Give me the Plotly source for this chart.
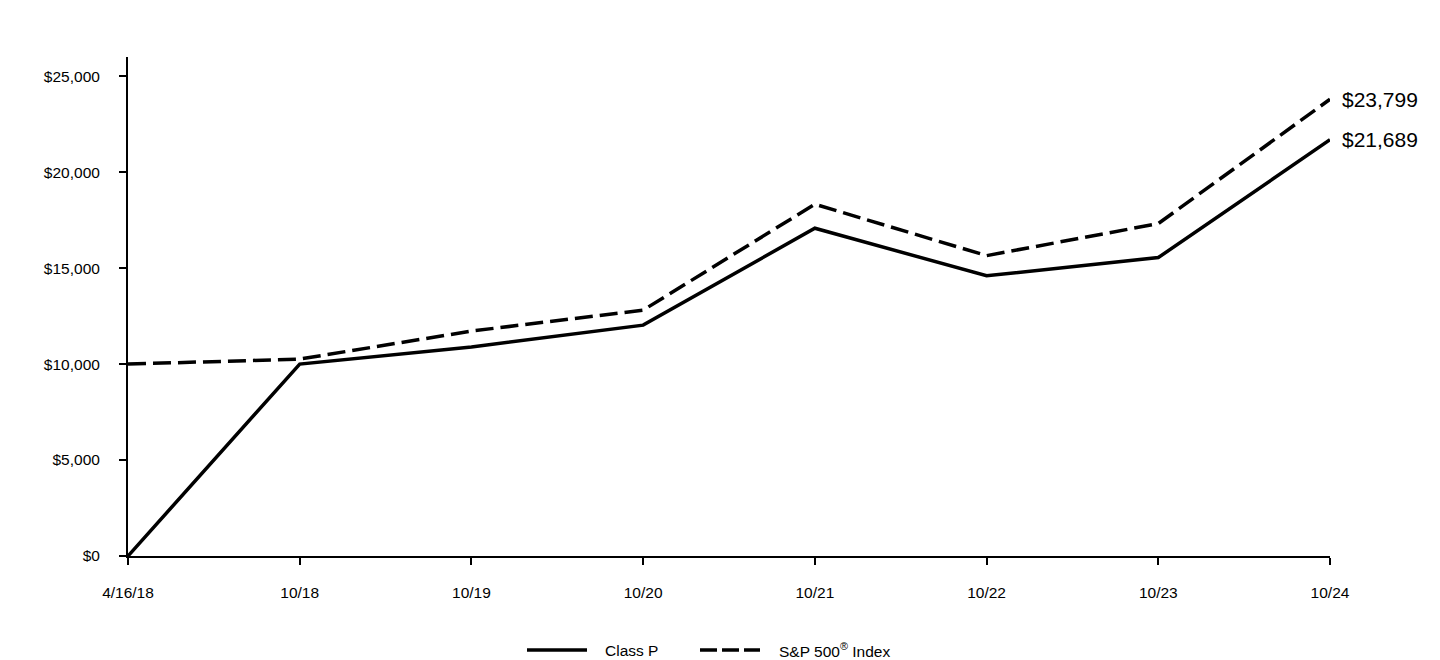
import plotly.graph_objects as go

categories = ["4/16/18", "10/18", "10/19", "10/20", "10/21", "10/22", "10/23", "10/24"]
class_p = [0, 10000, 10890, 12030, 17080, 14600, 15550, 21689]
sp500 = [10000, 10260, 11720, 12810, 18330, 15650, 17320, 23799]
y_ticks = [0, 5000, 10000, 15000, 20000, 25000]
y_tick_labels = ["$0", "$5,000", "$10,000", "$15,000", "$20,000", "$25,000"]

FONT = "Arial, 'Liberation Sans', sans-serif"
xi = list(range(len(categories)))

fig = go.Figure()
fig.add_trace(go.Scatter(x=xi, y=class_p, mode="lines", name="Class P",
                         line=dict(color="#000000", width=3.5), showlegend=False))
fig.add_trace(go.Scatter(x=xi, y=sp500, mode="lines", name="S&P 500® Index",
                         line=dict(color="#000000", width=3.5, dash="18px,7px"), showlegend=False))

# End labels
fig.add_annotation(x=xi[-1], y=sp500[-1], text=f"${sp500[-1]:,}", showarrow=False,
                   xanchor="left", yanchor="middle", xshift=10,
                   font=dict(family=FONT, size=21, color="#000"))
fig.add_annotation(x=xi[-1], y=class_p[-1], text=f"${class_p[-1]:,}", showarrow=False,
                   xanchor="left", yanchor="middle", xshift=10,
                   font=dict(family=FONT, size=21, color="#000"))

# Manual legend (paper coordinates)
W, H = 1202.0, 499.0
def px(x):
    return (x - 128) / W
def py(y):
    return (556 - y) / H

fig.add_shape(type="line", xref="paper", yref="paper", x0=px(527), x1=px(587), y0=py(650), y1=py(650),
              line=dict(color="#000", width=3.5))
fig.add_annotation(xref="paper", yref="paper", x=px(603), y=py(650), text="Class P", showarrow=False,
                   xanchor="left", yanchor="middle", font=dict(family=FONT, size=15.5, color="#000"))
fig.add_shape(type="line", xref="paper", yref="paper", x0=px(700), x1=px(760), y0=py(650), y1=py(650),
              line=dict(color="#000", width=3.5, dash="17px,5px"))
fig.add_annotation(xref="paper", yref="paper", x=px(777), y=py(650), text="S&P 500<sup>®</sup> Index",
                   showarrow=False, xanchor="left", yanchor="middle",
                   font=dict(family=FONT, size=15.5, color="#000"))

fig.update_layout(
    width=1440, height=660,
    margin=dict(l=128, r=110, t=57, b=104),
    paper_bgcolor="white", plot_bgcolor="white",
    font=dict(family=FONT, size=15.5, color="#000"),
    xaxis=dict(range=[0, 7], tickvals=xi, ticktext=categories, showgrid=False, zeroline=False,
               showline=True, linecolor="#000", linewidth=2, ticks="outside", ticklen=7,
               tickwidth=2, tickcolor="#000", tickfont=dict(family=FONT, size=15.5, color="#000"),
               ticklabelstandoff=14),
    yaxis=dict(range=[0, 26000], tickvals=y_ticks, ticktext=y_tick_labels, showgrid=False,
               zeroline=False, showline=True, linecolor="#000", linewidth=2, ticks="outside",
               ticklen=7, tickwidth=2, tickcolor="#000",
               tickfont=dict(family=FONT, size=15.5, color="#000"), ticklabelstandoff=16),
)

fig.write_html("out.html")
